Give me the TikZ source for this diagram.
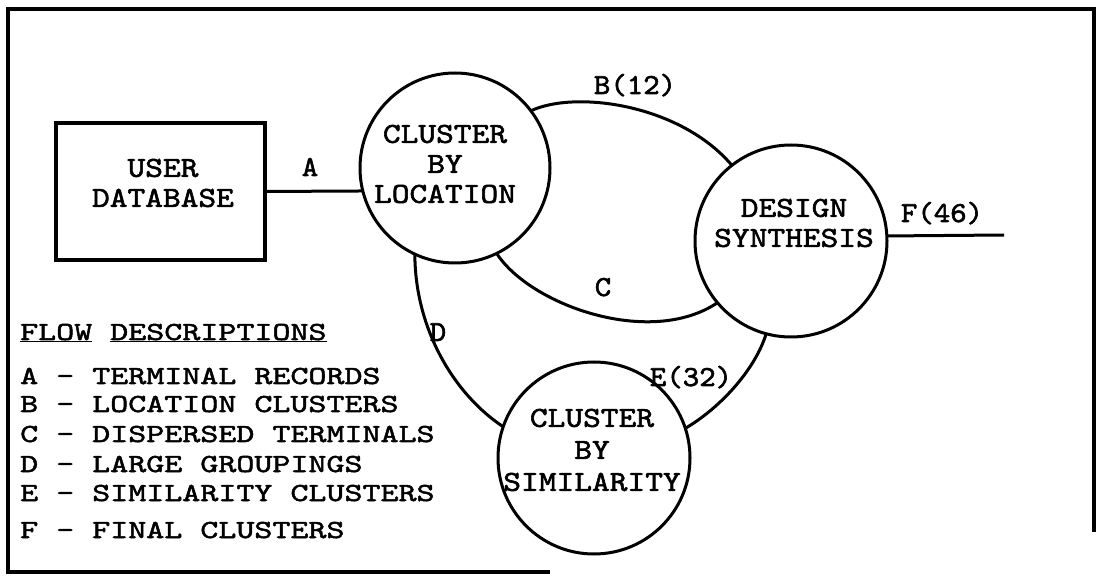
\documentclass[tikz,border=0pt]{standalone}
\usepackage{fontspec}
% typewriter faces: node texts, flow labels and the legend
\newfontfamily\nodefont[FakeStretch=1.165,FakeBold=2]{lmmono10-regular.otf}
\newfontfamily\labelfont[FakeStretch=1.08,FakeBold=2]{lmmono10-regular.otf}
\newfontfamily\legendfont[FakeStretch=1.32,FakeBold=2]{lmmono10-regular.otf}

\tikzset{
  frameline/.style={line width=3.6pt, line cap=rect, line join=miter},
  proc/.style={circle, draw, line width=3pt, inner sep=0pt, outer sep=0pt},
  store/.style={rectangle, draw, line width=3.4pt, inner sep=0pt, outer sep=0pt},
  flow/.style={line width=3pt},
  nodetext/.style={inner sep=0pt, align=center, font=\nodefont\fontsize{29pt}{30pt}\selectfont},
  simtext/.style={inner sep=0pt, align=center, font=\nodefont\fontsize{29pt}{32pt}\selectfont},
  flowlabel/.style={inner sep=0pt, anchor=base, font=\labelfont\fontsize{29pt}{30pt}\selectfont},
  legendline/.style={inner sep=0pt, anchor=base west, font=\legendfont\fontsize{26pt}{30pt}\selectfont}
}

\begin{document}
\begin{tikzpicture}[x=1pt, y=-1pt]
  % page and outer frame
  \fill[white] (0,0) rectangle (1096,577);
  \useasboundingbox (0,0) rectangle (1096,577);
  \draw[frameline] (548,572) -- (8,572) -- (8,9) -- (1094,9) -- (1094,530);

  % external entity and processes
  \node[store, minimum width=209pt, minimum height=137pt] (db) at (160.5,191.5) {};
  \node[proc, minimum size=190pt] (loc) at (455,168) {};
  \node[proc, minimum size=192pt] (des) at (791,241) {};
  \node[proc, minimum size=192pt] (sim) at (594,458) {};

  % texts inside the shapes
  \node[nodetext] (dbT) at (163,183) {USER\\DATABASE};
  \node[nodetext] (locT) at (445,164) {CLUSTER\\BY\\LOCATION};
  \node[nodetext] (desT) at (794,223) {DESIGN\\SYNTHESIS};
  \node[simtext] (simT) at (592,450) {CLUSTER\\BY\\SIMILARITY};

  % data flows
  \coordinate (fout) at (1004,235);
  \draw[flow] (db.east) -- (loc.194.5);
  \draw[flow] (loc.37.7) .. controls (575,90) and (680,104) .. (des.128);
  \draw[flow] (loc.-64) .. controls (530,305) and (650,348) .. (des.220);
  \draw[flow] (loc.245) .. controls (415,330) and (455,395) .. (sim.161);
  \draw[flow] (sim.18) .. controls (720,408) and (755,370) .. (des.255);
  \draw[flow] (des.3.6) -- (fout);

  % flow labels
  \node[flowlabel] (lA) at (310,176) {A};
  \node[flowlabel] (lB) at (635,94) {B(12)};
  \node[flowlabel] (lC) at (603,296) {C};
  \node[flowlabel] (lD) at (438,341) {D};
  \node[flowlabel] (lE) at (691,386) {E(32)};
  \node[flowlabel] (lF) at (942,222) {F(46)};

  % legend
  \node[legendline] (legH) at (20,340) {\underline{FLOW} \underline{DESCRIPTIONS}};
  \node[legendline] (legA) at (20,384) {A - TERMINAL RECORDS};
  \node[legendline] (legB) at (20,412) {B - LOCATION CLUSTERS};
  \node[legendline] (legC) at (20,442) {C - DISPERSED TERMINALS};
  \node[legendline] (legD) at (20,472) {D - LARGE GROUPINGS};
  \node[legendline] (legE) at (20,501) {E - SIMILARITY CLUSTERS};
  \node[legendline] (legF) at (20,538) {F - FINAL CLUSTERS};
\end{tikzpicture}
\end{document}
